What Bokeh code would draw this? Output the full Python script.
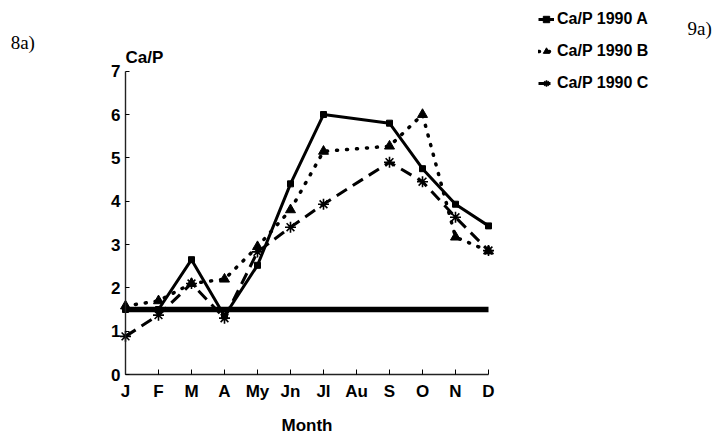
from bokeh.plotting import figure
from bokeh.models import Range1d, FixedTicker, Label, Legend, LegendItem
from bokeh.embed import file_html
from bokeh.resources import INLINE

months = ["J", "F", "M", "A", "My", "Jn", "Jl", "Au", "S", "O", "N", "D"]
# August has no measurement in any series
month_idx = [0, 1, 2, 3, 4, 5, 6, 8, 9, 10, 11]
ca_p_a = [1.5, 1.5, 2.65, 1.35, 2.52, 4.4, 6.0, 5.8, 4.75, 3.93, 3.43]
ca_p_b = [1.58, 1.7, 2.1, 2.2, 2.95, 3.8, 5.15, 5.27, 6.0, 3.17, 2.85]
ca_p_c = [0.88, 1.37, 2.1, 1.3, 2.83, 3.4, 3.93, 4.9, 4.45, 3.63, 2.86]
ref_level = 1.5
y_ticks = [0, 1, 2, 3, 4, 5, 6, 7]

SANS = "Liberation Sans"
SERIF = "Liberation Serif"

XS = 33.0   # px per month
YS = 43.33  # px per unit
p = figure(width=721, height=434, output_backend="svg", toolbar_location=None,
           title=None, min_border_left=0, min_border_right=0,
           min_border_top=0, min_border_bottom=0,
           x_range=Range1d(-125 / XS, 596 / XS), y_range=Range1d(-60 / YS, 374 / YS))
p.outline_line_color = None
p.xgrid.visible = False
p.ygrid.visible = False
p.background_fill_color = "white"
p.border_fill_color = "white"

# axes
xa = p.xaxis[0]
xa.fixed_location = 0
xa.bounds = (0, 11)
xa.ticker = FixedTicker(ticks=list(range(12)))
xa.major_label_overrides = {i: m for i, m in enumerate(months)}
xa.minor_tick_line_color = None
xa.major_tick_in = 5
xa.major_tick_out = 0
xa.axis_line_width = 1.6
xa.major_tick_line_width = 1
xa.major_label_text_font = SANS
xa.major_label_text_font_style = "bold"
xa.major_label_text_font_size = "17px"
xa.major_label_text_color = "black"
xa.major_label_standoff = 7
xa.axis_line_color = "#222222"

ya = p.yaxis[0]
ya.fixed_location = 0
ya.bounds = (0, 7)
ya.ticker = FixedTicker(ticks=y_ticks)
ya.minor_tick_line_color = None
ya.major_tick_in = 4
ya.major_tick_out = 0
ya.axis_line_width = 1.4
ya.major_tick_line_width = 1
ya.major_label_text_font = SANS
ya.major_label_text_font_style = "bold"
ya.major_label_text_font_size = "17px"
ya.major_label_text_color = "black"
ya.major_label_standoff = 5
ya.axis_line_color = "#222222"

# reference level line
p.line(x=[0, 11], y=[ref_level, ref_level], line_width=5.5, line_color="black")

la = p.line(month_idx, ca_p_a, line_width=3, line_color="black", line_join="round")
ma = p.scatter(month_idx, ca_p_a, marker="square", size=6, color="black")

lb = p.line(month_idx, ca_p_b, line_width=3.5, line_color="black",
            line_dash="1 9", line_cap="round")
mb = p.scatter(month_idx, ca_p_b, marker="triangle", size=10, color="black")

lc = p.line(month_idx, ca_p_c, line_width=3, line_color="black", line_dash="12 7")
mc = p.scatter(month_idx, ca_p_c, marker="asterisk", size=11, line_color="black",
               line_width=1.6)

legend = Legend(items=[
    LegendItem(label="Ca/P 1990 A", renderers=[la, ma]),
    LegendItem(label="Ca/P 1990 B", renderers=[lb, mb]),
    LegendItem(label="Ca/P 1990 C", renderers=[lc, mc]),
], location=(538, 341), orientation="vertical",
    glyph_width=16, glyph_height=20, label_height=20, label_width=90,
    spacing=12, padding=0, margin=0, label_standoff=3,
    label_text_font=SANS, label_text_font_style="bold",
    label_text_font_size="16px", label_text_color="black",
    border_line_color=None, background_fill_alpha=0)
p.add_layout(legend)

# texts
p.add_layout(Label(x=0, y=7.32, text="Ca/P", text_font=SANS, text_font_style="bold",
                   text_font_size="17px", text_color="black", text_align="left",
                   text_baseline="alphabetic"))
p.add_layout(Label(x=5.5, y=-1.17, text="Month", text_font=SANS, text_font_style="bold",
                   text_font_size="17px", text_color="black", text_align="center",
                   text_baseline="alphabetic"))
p.add_layout(Label(x=-3.48, y=7.67, text="8a)", text_font=SERIF,
                   text_font_size="19px", text_color="black", text_align="left",
                   text_baseline="alphabetic"))
p.add_layout(Label(x=17.03, y=7.98, text="9a)", text_font=SERIF,
                   text_font_size="19px", text_color="black", text_align="left",
                   text_baseline="alphabetic"))

open("out.html", "w").write(file_html(p, INLINE))
